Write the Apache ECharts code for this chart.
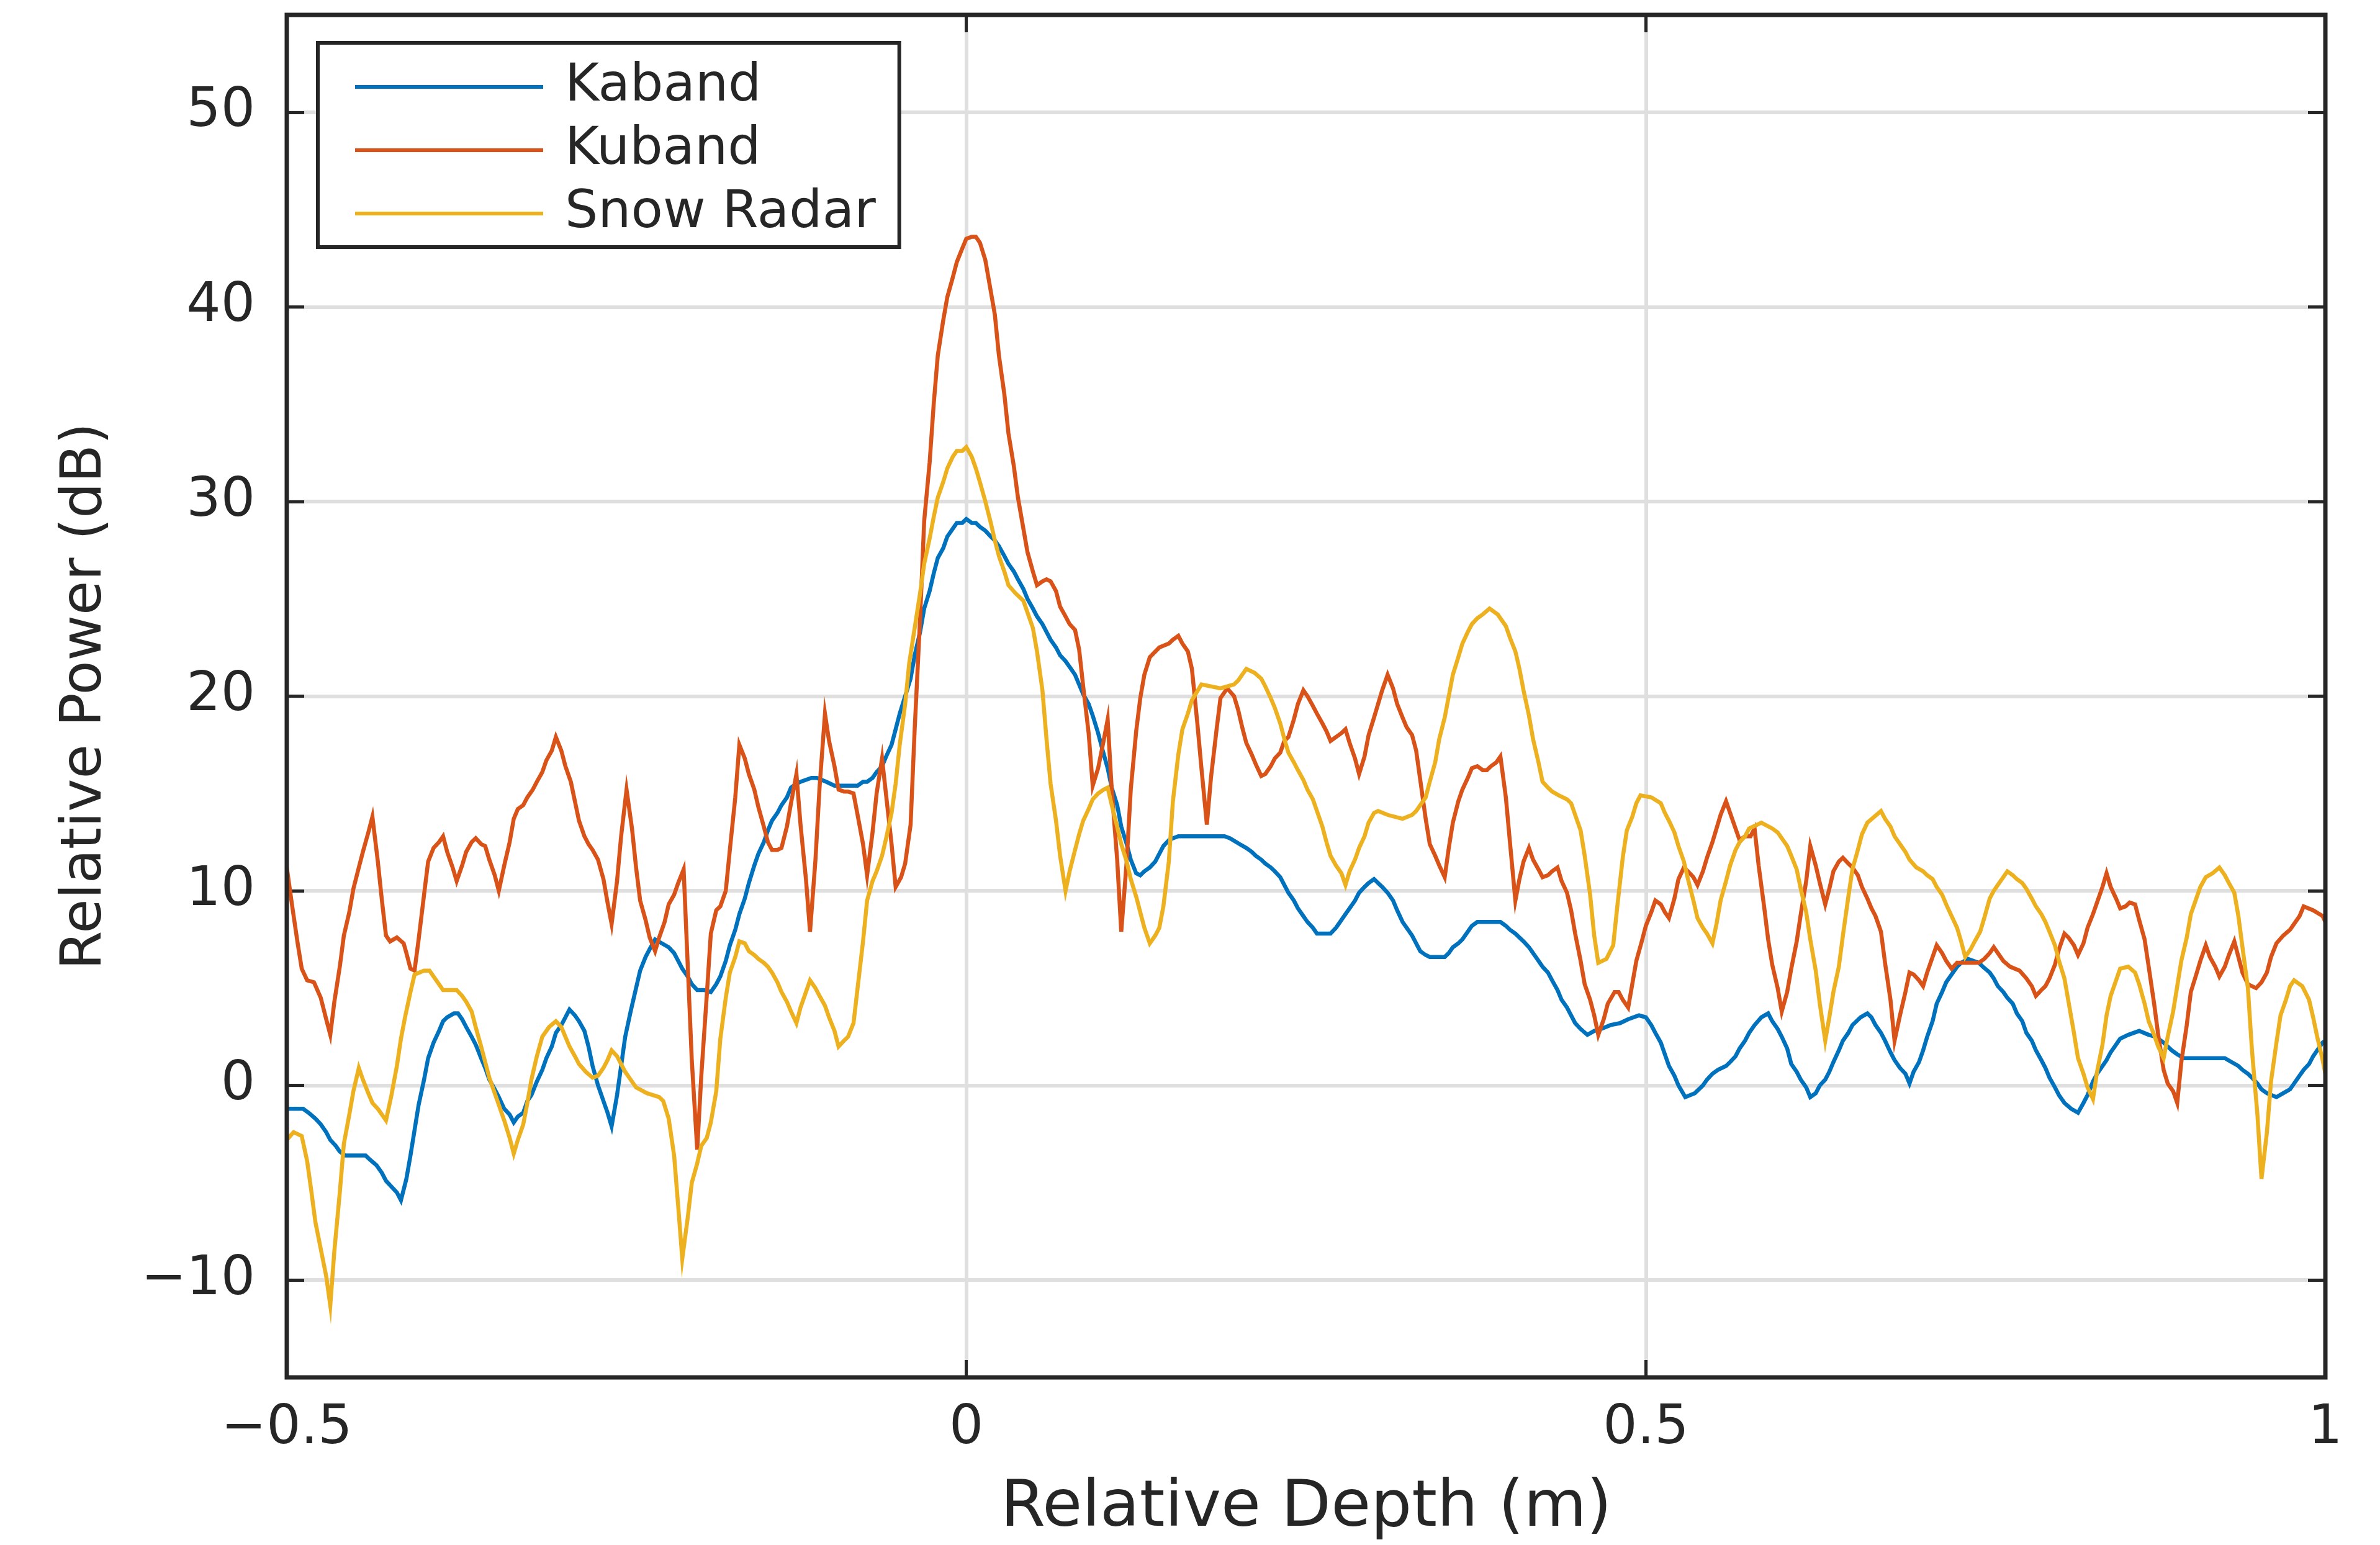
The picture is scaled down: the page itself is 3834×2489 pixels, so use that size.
<!DOCTYPE html>
<html>
<head>
<meta charset="utf-8">
<title>Relative Power vs Relative Depth</title>
<script src="https://cdn.jsdelivr.net/npm/echarts@6/dist/echarts.min.js"></script>
<style>
  html, body { margin: 0; padding: 0; background: #fff; }
  #chart { width: 3834px; height: 2489px; }
</style>
</head>
<body>
<div id="chart"></div>
<script>
// Waveform power profiles (dB) against relative depth (m) for three radars.
const kabandDepth = [-0.500,-0.488,-0.484,-0.479,-0.475,-0.471,-0.468,-0.464,-0.461,-0.457,-0.442,-0.439,-0.434,-0.430,-0.427,-0.423,-0.419,-0.416,-0.412,-0.409,-0.406,-0.403,-0.399,-0.396,-0.392,-0.388,-0.385,-0.382,-0.377,-0.374,-0.371,-0.368,-0.364,-0.361,-0.357,-0.354,-0.351,-0.347,-0.344,-0.340,-0.336,-0.333,-0.330,-0.326,-0.323,-0.320,-0.316,-0.312,-0.309,-0.305,-0.302,-0.298,-0.295,-0.292,-0.288,-0.285,-0.281,-0.278,-0.275,-0.271,-0.267,-0.264,-0.261,-0.257,-0.254,-0.251,-0.247,-0.243,-0.240,-0.236,-0.233,-0.229,-0.224,-0.219,-0.215,-0.212,-0.209,-0.205,-0.202,-0.198,-0.193,-0.188,-0.184,-0.181,-0.177,-0.174,-0.170,-0.167,-0.163,-0.160,-0.156,-0.153,-0.149,-0.146,-0.143,-0.139,-0.136,-0.132,-0.129,-0.125,-0.122,-0.114,-0.110,-0.103,-0.097,-0.080,-0.076,-0.073,-0.069,-0.066,-0.062,-0.059,-0.055,-0.052,-0.049,-0.045,-0.041,-0.038,-0.034,-0.031,-0.027,-0.024,-0.021,-0.017,-0.014,-0.010,-0.007,-0.003,0.000,0.004,0.007,0.010,0.014,0.018,0.021,0.024,0.028,0.031,0.035,0.038,0.042,0.045,0.049,0.052,0.056,0.059,0.062,0.066,0.069,0.073,0.076,0.080,0.083,0.086,0.090,0.093,0.097,0.100,0.104,0.107,0.111,0.114,0.118,0.121,0.125,0.128,0.131,0.135,0.139,0.142,0.145,0.149,0.152,0.156,0.174,0.190,0.194,0.201,0.206,0.210,0.213,0.217,0.220,0.224,0.227,0.231,0.234,0.237,0.241,0.244,0.248,0.251,0.255,0.258,0.268,0.272,0.276,0.279,0.282,0.286,0.289,0.293,0.296,0.300,0.303,0.306,0.310,0.314,0.317,0.321,0.324,0.328,0.331,0.334,0.338,0.341,0.352,0.355,0.358,0.362,0.365,0.369,0.372,0.376,0.393,0.397,0.400,0.404,0.407,0.410,0.414,0.417,0.421,0.424,0.428,0.431,0.435,0.438,0.442,0.445,0.448,0.452,0.457,0.462,0.467,0.474,0.481,0.487,0.495,0.500,0.504,0.507,0.511,0.514,0.517,0.521,0.524,0.529,0.536,0.542,0.545,0.549,0.553,0.559,0.562,0.566,0.569,0.573,0.576,0.580,0.585,0.590,0.593,0.597,0.600,0.604,0.607,0.611,0.614,0.618,0.621,0.625,0.628,0.632,0.635,0.638,0.642,0.645,0.649,0.652,0.658,0.663,0.666,0.669,0.673,0.676,0.680,0.683,0.687,0.691,0.694,0.697,0.701,0.704,0.707,0.711,0.714,0.718,0.721,0.725,0.729,0.732,0.737,0.745,0.748,0.753,0.756,0.759,0.763,0.766,0.770,0.773,0.777,0.780,0.784,0.787,0.791,0.794,0.797,0.801,0.804,0.808,0.813,0.818,0.822,0.825,0.829,0.832,0.836,0.839,0.842,0.846,0.849,0.855,0.863,0.870,0.875,0.881,0.887,0.891,0.896,0.926,0.931,0.936,0.939,0.943,0.946,0.950,0.953,0.957,0.964,0.969,0.974,0.977,0.981,0.984,0.988,0.991,0.994,0.998,1.000];
const kabandPower = [-1.2,-1.2,-1.4,-1.7,-2.0,-2.4,-2.8,-3.1,-3.4,-3.6,-3.6,-3.8,-4.1,-4.5,-4.9,-5.2,-5.5,-5.9,-4.8,-3.6,-2.3,-1.0,0.3,1.4,2.2,2.8,3.3,3.5,3.7,3.7,3.4,3.0,2.5,2.1,1.4,0.9,0.3,-0.2,-0.6,-1.2,-1.5,-1.9,-1.6,-1.4,-0.8,-0.5,0.2,0.8,1.4,2.0,2.7,3.1,3.5,3.9,3.6,3.3,2.8,2.0,1.0,0.0,-0.8,-1.4,-2.1,-0.5,1.0,2.5,3.8,5.0,5.9,6.6,7.0,7.5,7.3,7.1,6.8,6.4,6.0,5.6,5.2,4.9,4.9,4.8,5.2,5.6,6.4,7.2,8.0,8.8,9.6,10.4,11.3,11.9,12.5,13.1,13.6,14.0,14.4,14.8,15.3,15.5,15.6,15.8,15.8,15.6,15.4,15.4,15.6,15.6,15.8,16.1,16.4,16.9,17.5,18.3,19.1,20.0,20.9,22.1,23.3,24.5,25.4,26.3,27.1,27.6,28.2,28.6,28.9,28.9,29.1,28.9,28.9,28.7,28.5,28.2,28.0,27.7,27.2,26.8,26.4,26.0,25.5,25.0,24.5,24.1,23.7,23.3,22.9,22.5,22.1,21.8,21.5,21.1,20.6,20.1,19.6,19.0,18.1,17.3,16.3,15.3,14.4,13.3,12.4,11.6,10.9,10.8,11.0,11.2,11.5,11.9,12.3,12.6,12.7,12.8,12.8,12.8,12.7,12.4,12.2,12.0,11.8,11.6,11.4,11.2,11.0,10.7,10.3,9.9,9.5,9.1,8.7,8.4,8.1,7.8,7.8,8.1,8.5,8.8,9.1,9.5,9.9,10.2,10.4,10.6,10.4,10.2,9.9,9.5,9.0,8.4,8.1,7.7,7.3,6.9,6.7,6.6,6.6,6.8,7.1,7.3,7.5,7.9,8.2,8.4,8.4,8.2,8.0,7.8,7.6,7.4,7.1,6.8,6.4,6.1,5.8,5.4,4.9,4.4,4.0,3.6,3.2,2.9,2.6,2.8,2.9,3.1,3.2,3.4,3.6,3.5,3.1,2.7,2.2,1.6,1.0,0.5,0.0,-0.6,-0.4,0.0,0.3,0.6,0.8,1.0,1.2,1.5,1.9,2.3,2.7,3.1,3.5,3.7,3.3,2.9,2.5,1.9,1.1,0.7,0.3,-0.1,-0.6,-0.4,0.0,0.3,0.7,1.2,1.8,2.3,2.7,3.1,3.5,3.7,3.5,3.1,2.7,2.3,1.7,1.3,0.9,0.6,0.1,0.7,1.2,1.8,2.5,3.3,4.2,4.8,5.3,5.7,6.1,6.3,6.5,6.3,6.1,5.8,5.5,5.1,4.8,4.5,4.2,3.7,3.3,2.7,2.3,1.8,1.3,0.9,0.4,-0.1,-0.5,-0.9,-1.2,-1.4,-0.9,-0.5,0.2,0.6,1.0,1.3,1.7,2.1,2.4,2.6,2.8,2.6,2.5,2.2,1.8,1.6,1.4,1.4,1.2,1.0,0.8,0.6,0.4,0.1,-0.2,-0.4,-0.6,-0.4,-0.2,0.1,0.5,0.8,1.1,1.5,1.8,2.2,2.3];

const kubandDepth = [-0.500,-0.496,-0.492,-0.489,-0.485,-0.480,-0.475,-0.471,-0.468,-0.465,-0.461,-0.458,-0.454,-0.451,-0.447,-0.444,-0.440,-0.437,-0.433,-0.430,-0.427,-0.424,-0.419,-0.414,-0.412,-0.409,-0.406,-0.403,-0.399,-0.396,-0.392,-0.388,-0.385,-0.382,-0.378,-0.375,-0.371,-0.368,-0.364,-0.361,-0.357,-0.354,-0.351,-0.347,-0.344,-0.340,-0.336,-0.333,-0.330,-0.326,-0.323,-0.319,-0.316,-0.312,-0.309,-0.305,-0.302,-0.298,-0.295,-0.291,-0.288,-0.285,-0.281,-0.278,-0.275,-0.271,-0.267,-0.264,-0.261,-0.257,-0.254,-0.250,-0.246,-0.243,-0.240,-0.236,-0.233,-0.229,-0.226,-0.222,-0.219,-0.215,-0.212,-0.208,-0.205,-0.202,-0.198,-0.195,-0.191,-0.188,-0.184,-0.181,-0.177,-0.174,-0.170,-0.167,-0.163,-0.160,-0.156,-0.153,-0.149,-0.146,-0.143,-0.139,-0.136,-0.132,-0.129,-0.125,-0.122,-0.118,-0.115,-0.111,-0.108,-0.104,-0.101,-0.097,-0.094,-0.090,-0.087,-0.083,-0.080,-0.076,-0.073,-0.069,-0.066,-0.062,-0.059,-0.055,-0.052,-0.048,-0.045,-0.041,-0.038,-0.034,-0.031,-0.027,-0.024,-0.021,-0.017,-0.014,-0.010,-0.007,-0.003,0.000,0.004,0.007,0.010,0.014,0.017,0.021,0.024,0.028,0.031,0.035,0.038,0.042,0.045,0.049,0.052,0.056,0.059,0.062,0.066,0.069,0.073,0.076,0.080,0.083,0.086,0.090,0.093,0.097,0.101,0.104,0.107,0.111,0.114,0.118,0.121,0.125,0.128,0.131,0.135,0.142,0.149,0.152,0.156,0.159,0.163,0.166,0.170,0.173,0.177,0.180,0.184,0.187,0.192,0.197,0.200,0.203,0.206,0.210,0.213,0.217,0.220,0.224,0.227,0.231,0.234,0.237,0.241,0.244,0.248,0.251,0.255,0.258,0.262,0.265,0.268,0.272,0.276,0.279,0.282,0.286,0.289,0.293,0.296,0.300,0.303,0.306,0.310,0.314,0.317,0.321,0.324,0.328,0.331,0.334,0.338,0.341,0.345,0.348,0.352,0.355,0.358,0.362,0.365,0.369,0.372,0.376,0.380,0.383,0.386,0.390,0.393,0.397,0.400,0.404,0.407,0.410,0.414,0.417,0.421,0.424,0.428,0.431,0.435,0.438,0.442,0.445,0.448,0.452,0.455,0.459,0.462,0.465,0.469,0.472,0.477,0.480,0.483,0.487,0.490,0.493,0.497,0.500,0.504,0.507,0.511,0.514,0.517,0.521,0.524,0.528,0.531,0.535,0.538,0.542,0.545,0.549,0.552,0.555,0.559,0.562,0.566,0.569,0.573,0.577,0.580,0.583,0.587,0.590,0.593,0.597,0.600,0.604,0.607,0.611,0.614,0.618,0.621,0.625,0.628,0.632,0.635,0.638,0.642,0.645,0.649,0.652,0.656,0.659,0.663,0.666,0.669,0.673,0.676,0.680,0.683,0.687,0.691,0.694,0.697,0.701,0.704,0.707,0.711,0.714,0.718,0.721,0.725,0.729,0.737,0.745,0.749,0.753,0.756,0.759,0.763,0.768,0.775,0.780,0.784,0.787,0.791,0.794,0.797,0.801,0.804,0.808,0.811,0.815,0.818,0.822,0.825,0.829,0.832,0.836,0.839,0.842,0.846,0.849,0.853,0.856,0.860,0.863,0.867,0.870,0.874,0.877,0.881,0.884,0.888,0.891,0.894,0.898,0.901,0.905,0.908,0.912,0.915,0.919,0.922,0.926,0.929,0.933,0.936,0.939,0.943,0.949,0.953,0.957,0.960,0.964,0.969,0.974,0.977,0.981,0.984,0.991,0.998,1.000];
const kubandPower = [11.2,9.2,7.3,6.0,5.4,5.3,4.5,3.4,2.6,4.3,6.1,7.7,8.9,10.1,11.2,12.0,13.0,13.8,11.5,9.5,7.7,7.4,7.6,7.3,6.8,6.0,5.9,7.5,9.8,11.5,12.2,12.5,12.8,12.0,11.2,10.5,11.3,12.0,12.5,12.7,12.4,12.3,11.6,10.8,10.0,11.3,12.5,13.7,14.2,14.4,14.8,15.2,15.6,16.1,16.7,17.2,17.9,17.2,16.4,15.6,14.6,13.6,12.8,12.4,12.1,11.6,10.6,9.4,8.3,10.5,12.8,15.2,13.2,11.2,9.5,8.5,7.6,6.9,7.6,8.4,9.3,9.8,10.4,11.1,6.2,1.3,-3.3,0.5,4.6,7.8,9.0,9.2,10.0,12.1,14.8,17.5,16.8,16.0,15.2,14.3,13.3,12.5,12.1,12.1,12.2,13.3,14.5,16.0,13.4,10.6,7.9,11.6,15.3,19.1,17.7,16.4,15.2,15.1,15.1,15.0,13.9,12.4,10.8,13.0,15.0,16.8,14.9,12.4,10.2,10.7,11.4,13.4,18.3,24.0,29.0,32.0,35.0,37.5,39.3,40.5,41.5,42.3,43.0,43.5,43.6,43.6,43.3,42.4,41.2,39.6,37.5,35.5,33.5,31.8,30.2,28.6,27.4,26.4,25.7,25.9,26.0,25.9,25.4,24.6,24.1,23.7,23.4,22.4,20.5,18.1,15.4,16.3,17.7,18.8,15.2,11.6,7.9,11.5,15.2,18.2,19.9,21.1,22.0,22.5,22.7,22.9,23.1,22.7,22.3,21.4,18.6,16.3,13.4,15.8,18.2,19.9,20.4,20.0,19.3,18.4,17.6,17.0,16.5,15.9,16.0,16.4,16.8,17.1,17.7,17.9,18.8,19.6,20.3,20.0,19.5,19.1,18.6,18.2,17.7,17.9,18.1,18.3,17.6,16.8,16.0,16.9,18.0,18.9,19.6,20.3,21.1,20.4,19.6,18.9,18.4,18.0,17.2,15.7,13.7,12.4,11.8,11.3,10.7,12.2,13.5,14.6,15.2,15.8,16.3,16.4,16.2,16.2,16.4,16.6,16.9,14.8,12.5,9.5,10.6,11.5,12.2,11.6,11.1,10.7,10.8,11.0,11.2,10.5,9.9,9.0,7.8,6.4,5.2,4.4,3.6,2.6,3.4,4.2,4.8,4.8,4.4,4.0,5.2,6.4,7.4,8.2,8.9,9.5,9.3,8.9,8.6,9.6,10.6,11.2,11.0,10.7,10.3,11.0,11.7,12.5,13.2,13.9,14.6,14.0,13.2,12.6,12.8,12.8,13.2,11.3,9.2,7.5,6.2,5.0,3.8,4.8,6.0,7.4,8.8,10.5,12.3,11.3,10.4,9.3,10.1,11.0,11.5,11.7,11.4,11.2,10.8,10.2,9.6,9.1,8.7,7.9,6.3,4.4,2.3,3.6,4.8,5.8,5.7,5.4,5.1,5.8,6.6,7.2,6.8,6.4,6.0,6.3,6.3,6.3,6.5,6.8,7.1,6.8,6.4,6.1,5.9,5.5,5.1,4.6,4.9,5.1,5.5,6.2,7.0,7.8,7.6,7.2,6.7,7.3,8.1,8.8,9.4,10.2,10.9,10.2,9.6,9.1,9.2,9.4,9.3,8.5,7.5,6.1,4.2,2.6,0.8,0.1,-0.3,-0.9,1.2,3.1,4.8,5.7,6.4,7.2,6.6,6.1,5.6,6.1,6.7,7.4,6.6,5.8,5.2,5.0,5.3,5.8,6.6,7.3,7.7,8.0,8.3,8.7,9.2,9.0,8.7,8.4];

const snowDepth = [-0.500,-0.495,-0.489,-0.485,-0.482,-0.479,-0.475,-0.471,-0.468,-0.465,-0.461,-0.458,-0.454,-0.451,-0.447,-0.444,-0.440,-0.437,-0.433,-0.430,-0.427,-0.423,-0.419,-0.416,-0.413,-0.409,-0.406,-0.399,-0.395,-0.392,-0.388,-0.385,-0.375,-0.371,-0.368,-0.364,-0.361,-0.357,-0.354,-0.351,-0.347,-0.344,-0.340,-0.336,-0.333,-0.330,-0.326,-0.323,-0.320,-0.316,-0.312,-0.307,-0.302,-0.298,-0.295,-0.292,-0.288,-0.285,-0.280,-0.275,-0.271,-0.267,-0.264,-0.261,-0.257,-0.254,-0.251,-0.247,-0.243,-0.235,-0.226,-0.223,-0.219,-0.215,-0.212,-0.209,-0.205,-0.202,-0.198,-0.195,-0.191,-0.188,-0.184,-0.181,-0.177,-0.174,-0.170,-0.167,-0.163,-0.160,-0.156,-0.153,-0.149,-0.146,-0.143,-0.139,-0.136,-0.132,-0.129,-0.125,-0.122,-0.118,-0.115,-0.111,-0.108,-0.104,-0.101,-0.097,-0.094,-0.090,-0.087,-0.083,-0.080,-0.076,-0.073,-0.069,-0.066,-0.062,-0.059,-0.055,-0.052,-0.049,-0.045,-0.042,-0.038,-0.034,-0.031,-0.027,-0.024,-0.021,-0.017,-0.014,-0.010,-0.007,-0.003,0.000,0.004,0.007,0.010,0.014,0.018,0.021,0.024,0.028,0.031,0.036,0.042,0.045,0.049,0.052,0.056,0.059,0.062,0.066,0.069,0.073,0.076,0.080,0.083,0.086,0.090,0.093,0.097,0.101,0.104,0.107,0.111,0.114,0.118,0.121,0.125,0.128,0.131,0.135,0.139,0.142,0.145,0.149,0.152,0.156,0.159,0.163,0.166,0.173,0.187,0.197,0.200,0.203,0.206,0.212,0.217,0.220,0.224,0.227,0.231,0.234,0.237,0.241,0.244,0.248,0.251,0.255,0.258,0.262,0.265,0.268,0.272,0.276,0.279,0.282,0.286,0.289,0.293,0.296,0.300,0.303,0.310,0.321,0.328,0.331,0.334,0.338,0.341,0.345,0.348,0.352,0.355,0.358,0.362,0.365,0.369,0.372,0.376,0.380,0.385,0.391,0.397,0.400,0.404,0.407,0.410,0.414,0.417,0.421,0.424,0.428,0.431,0.436,0.442,0.445,0.448,0.452,0.455,0.459,0.462,0.465,0.471,0.476,0.479,0.483,0.486,0.490,0.493,0.496,0.504,0.511,0.514,0.517,0.521,0.524,0.528,0.531,0.535,0.538,0.542,0.545,0.549,0.552,0.555,0.559,0.562,0.566,0.569,0.573,0.576,0.585,0.593,0.597,0.600,0.604,0.607,0.611,0.614,0.618,0.621,0.625,0.628,0.632,0.635,0.638,0.642,0.645,0.649,0.652,0.656,0.659,0.663,0.668,0.673,0.676,0.680,0.683,0.687,0.691,0.694,0.699,0.704,0.707,0.711,0.714,0.718,0.721,0.725,0.729,0.732,0.735,0.739,0.742,0.746,0.749,0.753,0.756,0.759,0.763,0.766,0.770,0.773,0.777,0.780,0.784,0.787,0.791,0.794,0.797,0.801,0.804,0.808,0.811,0.815,0.818,0.822,0.825,0.829,0.832,0.836,0.839,0.842,0.846,0.849,0.855,0.860,0.863,0.867,0.870,0.874,0.877,0.881,0.884,0.888,0.891,0.894,0.898,0.901,0.905,0.908,0.912,0.917,0.922,0.926,0.929,0.933,0.936,0.939,0.943,0.946,0.950,0.953,0.957,0.960,0.964,0.967,0.971,0.974,0.977,0.983,0.988,0.991,0.994,0.998,1.000];
const snowPower = [-2.8,-2.4,-2.6,-3.9,-5.4,-7.0,-8.4,-9.8,-11.3,-8.5,-5.5,-3.0,-1.5,-0.3,0.9,0.3,-0.4,-0.9,-1.2,-1.5,-1.8,-0.5,1.0,2.4,3.5,4.8,5.7,5.9,5.9,5.6,5.2,4.9,4.9,4.6,4.3,3.8,3.0,2.0,1.2,0.4,-0.4,-1.0,-1.8,-2.7,-3.5,-2.8,-2.0,-0.9,0.3,1.5,2.5,3.0,3.3,3.0,2.5,2.0,1.5,1.1,0.7,0.4,0.5,0.9,1.3,1.8,1.5,1.1,0.7,0.3,-0.1,-0.4,-0.6,-0.8,-1.7,-3.6,-6.2,-8.9,-6.8,-5.0,-4.0,-3.1,-2.7,-1.9,-0.3,2.4,4.5,5.8,6.6,7.4,7.3,6.9,6.7,6.5,6.3,6.1,5.8,5.3,4.8,4.3,3.8,3.2,4.0,4.8,5.4,5.0,4.6,4.1,3.5,2.8,2.0,2.3,2.5,3.2,5.0,7.4,9.5,10.5,11.0,11.8,12.7,14.0,15.5,17.5,19.6,21.7,23.5,25.3,26.8,28.1,29.2,30.2,31.0,31.7,32.3,32.6,32.6,32.8,32.3,31.7,31.0,30.0,28.9,28.0,27.2,26.4,25.7,25.3,24.9,24.3,23.5,22.3,20.3,17.8,15.5,13.6,11.8,10.0,11.0,12.1,12.9,13.6,14.2,14.7,15.0,15.2,15.3,14.4,13.3,12.4,11.5,10.6,9.7,8.9,8.1,7.3,7.7,8.1,9.2,11.5,14.6,17.0,18.3,19.1,19.8,20.6,20.4,20.6,20.8,21.1,21.4,21.2,20.9,20.5,19.9,19.4,18.6,17.8,17.1,16.6,16.2,15.7,15.2,14.7,14.1,13.3,12.5,11.8,11.3,10.9,10.3,11.0,11.6,12.2,12.8,13.5,14.0,14.1,13.9,13.7,13.9,14.1,14.4,14.8,15.6,16.6,17.8,18.9,20.0,21.1,22.0,22.7,23.3,23.7,24.0,24.2,24.5,24.2,23.6,23.0,22.3,21.4,20.3,19.0,17.8,16.6,15.6,15.3,15.1,14.9,14.7,14.5,13.9,13.1,11.8,9.8,7.7,6.3,6.5,7.2,9.2,11.7,13.1,13.8,14.5,14.9,14.8,14.5,14.0,13.6,13.0,12.3,11.5,10.6,9.5,8.6,8.1,7.8,7.3,8.3,9.5,10.5,11.3,12.1,12.5,12.8,13.2,13.5,13.2,13.0,12.7,12.3,11.8,11.1,10.1,8.9,7.5,5.9,4.2,2.3,3.5,4.8,6.1,7.7,9.7,11.1,12.1,12.9,13.5,13.8,14.1,13.7,13.3,12.8,12.4,12.0,11.6,11.2,11.0,10.8,10.6,10.2,9.8,9.3,8.7,8.1,7.4,6.6,7.0,7.4,7.9,8.6,9.6,10.0,10.3,10.7,11.0,10.8,10.6,10.4,10.1,9.6,9.2,8.8,8.4,7.9,7.2,6.4,5.5,4.3,2.7,1.4,0.6,-0.1,-0.7,0.7,2.1,3.6,4.6,5.4,6.0,6.1,5.8,5.2,4.2,3.3,2.6,2.0,1.4,2.5,3.8,5.1,6.4,7.6,8.8,9.6,10.2,10.7,10.9,11.2,10.8,10.4,9.9,8.7,7.1,5.0,1.8,-1.5,-4.8,-2.4,0.2,2.2,3.6,4.4,5.1,5.4,5.1,4.4,3.5,2.5,1.3,0.6];

const seriesNames = ['Kaband', 'Kuband', 'Snow Radar'];
const seriesColors = ['#0072BD', '#D95319', '#EDB120'];
const depthTicks = [-0.5, 0, 0.5, 1];
const powerTicks = [-10, 0, 10, 20, 30, 40, 50];

const ink = '#262626';
const gridGray = '#dfdfdf';
const fontFamily = 'DejaVu Sans';

const pairs = (xs, ys) => xs.map((x, i) => [x, ys[i]]);
const minusSign = v => String(v).replace('-', '\u2212');

const chart = echarts.init(document.getElementById('chart'), null, { renderer: 'canvas' });

const tickStyle = { show: true, inside: true, length: 28, lineStyle: { color: ink, width: 5 } };
const hiddenLine = { show: false, onZero: false };

const option = {
  animation: false,
  backgroundColor: '#ffffff',
  textStyle: { fontFamily: fontFamily, color: ink },
  grid: {
    left: 462, right: 88, top: 24, bottom: 270,
    show: true, z: 10,
    backgroundColor: 'transparent',
    borderColor: ink, borderWidth: 7
  },
  legend: {
    orient: 'vertical',
    left: 512, top: 69,
    z: 11,
    data: seriesNames,
    icon: 'rect',
    itemWidth: 303, itemHeight: 6, itemGap: 18,
    backgroundColor: '#ffffff',
    borderColor: ink, borderWidth: 6, borderRadius: 0,
    padding: [29, 38, 12, 60],
    textStyle: { fontSize: 84, color: ink, fontFamily: fontFamily, padding: [0, 0, 0, 30] }
  },
  xAxis: [
    {
      type: 'value', position: 'bottom',
      min: depthTicks[0], max: depthTicks[depthTicks.length - 1], interval: 0.5,
      axisLine: hiddenLine,
      axisTick: tickStyle,
      axisLabel: { fontSize: 87, color: ink, margin: 40, formatter: v => depthTicks.includes(v) ? minusSign(v) : '' },
      splitLine: { show: true, lineStyle: { color: gridGray, width: 6 } },
      name: 'Relative Depth (m)', nameLocation: 'middle', nameGap: 160,
      nameTextStyle: { fontSize: 104, color: ink }
    },
    {
      type: 'value', position: 'top',
      min: depthTicks[0], max: depthTicks[depthTicks.length - 1], interval: 0.5,
      axisLine: hiddenLine, axisTick: tickStyle,
      axisLabel: { show: false }, splitLine: { show: false }
    }
  ],
  yAxis: [
    {
      type: 'value', position: 'left',
      min: -15, max: 55, splitNumber: 7,
      axisLine: hiddenLine,
      axisTick: tickStyle,
      axisLabel: {
        fontSize: 87, color: ink, margin: 51,
        showMinLabel: false, showMaxLabel: false,
        formatter: v => powerTicks.includes(v) ? minusSign(v) : ''
      },
      splitLine: { show: true, lineStyle: { color: gridGray, width: 6 } },
      name: 'Relative Power (dB)', nameLocation: 'middle', nameGap: 278,
      nameTextStyle: { fontSize: 90, color: ink }
    },
    {
      type: 'value', position: 'right',
      min: -15, max: 55, splitNumber: 7,
      axisLine: hiddenLine, axisTick: tickStyle,
      axisLabel: { show: false }, splitLine: { show: false }
    }
  ],
  series: [
    [kabandDepth, kabandPower],
    [kubandDepth, kubandPower],
    [snowDepth, snowPower]
  ].map(([xs, ys], i) => ({
    name: seriesNames[i],
    type: 'line',
    xAxisIndex: 0, yAxisIndex: 0,
    data: pairs(xs, ys),
    showSymbol: false, symbol: 'none',
    lineStyle: { color: seriesColors[i], width: 6.5, join: 'miter' },
    itemStyle: { color: seriesColors[i] },
    z: 2 + i
  }))
};

chart.setOption(option);
</script>
</body>
</html>
